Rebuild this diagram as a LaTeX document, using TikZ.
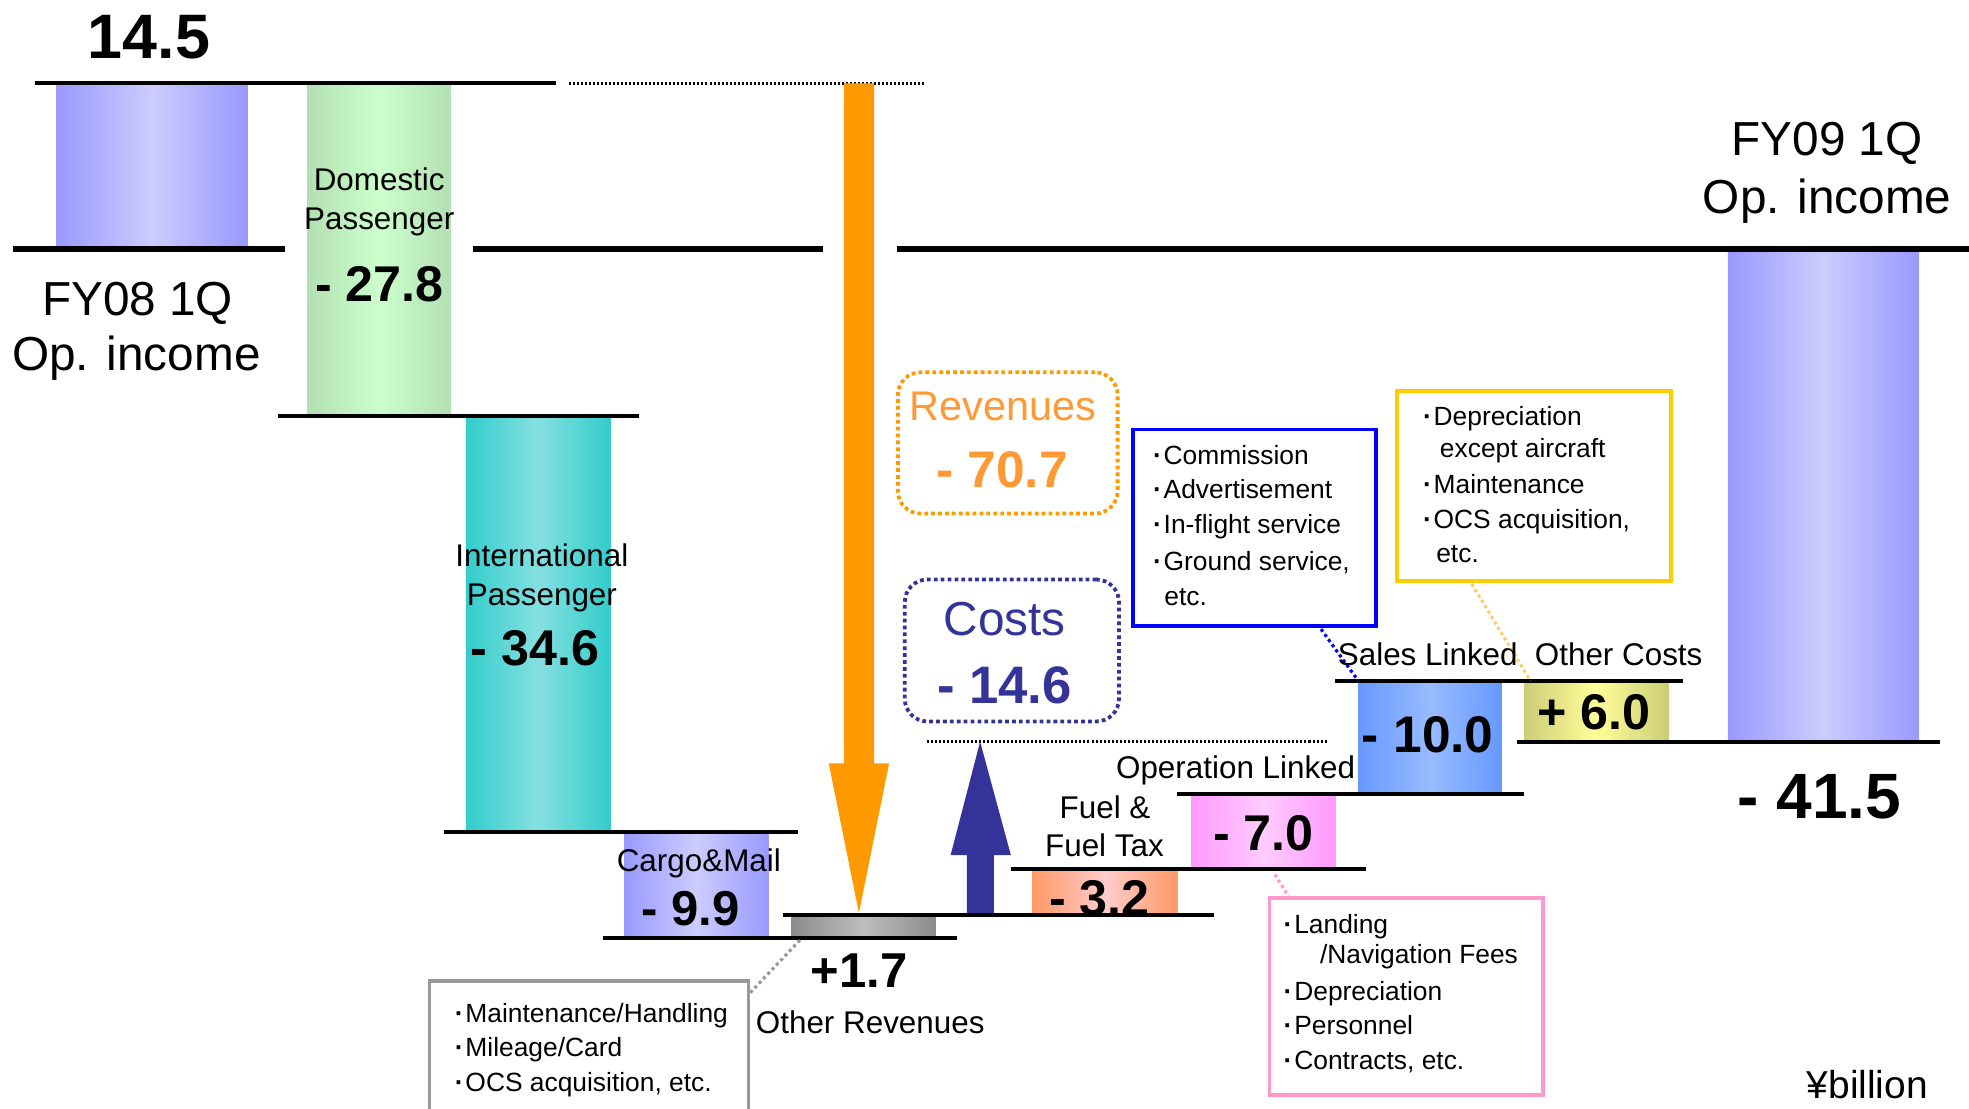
\documentclass[tikz,border=0pt]{standalone}
\usepackage{fontspec}
\setmainfont{Liberation Sans}
\usetikzlibrary{calc}
\newcommand\fsz[1]{\fontsize{#1}{#1}\selectfont}
\newcommand\bul{{\bfseries ·}\kern1.5pt}
\definecolor{fyE}{HTML}{9999FF}\definecolor{fyM}{HTML}{CCCCFF}
\definecolor{domE}{HTML}{B3E0B3}\definecolor{domM}{HTML}{CCFFCC}
\definecolor{intE}{HTML}{33CCCC}\definecolor{intM}{HTML}{85E0E0}
\definecolor{grE}{HTML}{8C8C8C}\definecolor{grM}{HTML}{BDBDBD}
\definecolor{fuE}{HTML}{FF9966}\definecolor{fuM}{HTML}{FFCCCC}
\definecolor{piE}{HTML}{FF99FF}\definecolor{piM}{HTML}{FFCCFF}
\definecolor{slE}{HTML}{6699FF}\definecolor{slM}{HTML}{99BBFF}
\definecolor{ocE}{HTML}{CCCC77}\definecolor{ocM}{HTML}{FFFF99}
\definecolor{arrO}{HTML}{FF9900}
\definecolor{arrB}{HTML}{333399}
\definecolor{revT}{HTML}{FF9933}
\definecolor{boxB}{HTML}{0000FF}
\definecolor{boxY}{HTML}{FFCC00}
\definecolor{boxP}{HTML}{FF99CC}
\definecolor{boxG}{HTML}{999999}
\definecolor{dotY}{HTML}{FFCC66}
\begin{document}
\begin{tikzpicture}[x=1pt,y=-1pt,
  barnode/.style n args={4}{anchor=north west, inner sep=0pt, outer sep=0pt,
     minimum width=#1pt, minimum height=#2pt,
     left color=#3, right color=#3, middle color=#4},
  hl/.style={line width=3pt},
  baseline line/.style={line width=5pt},
  dotline/.style={line width=2pt, dash pattern=on 1.6pt off 1.6pt},
  lbl/.style={anchor=base, inner sep=0pt},
  item/.style={anchor=base west, inner sep=0pt, font=\fsz{21}},
  infobox/.style={anchor=north west, inner sep=0pt, line width=3pt, fill=white},
  roundbox/.style={anchor=north west, inner sep=0pt, line width=3pt,
     dash pattern=on 3pt off 2.5pt, rounded corners=18pt},
  callout/.style={line width=2.5pt, dash pattern=on 2.5pt off 2.5pt}]
\useasboundingbox (0,0) rectangle (1568,883);

% ---------- bars ----------
\node[barnode={152}{132}{fyE}{fyM}] (fy08) at (45,66.4) {};
\node[barnode={114}{264}{domE}{domM}] (dom) at (245,66.4) {};
\node[barnode={115}{331}{intE}{intM}] (intl) at (371,331) {};
\node[barnode={115}{85}{fyE}{fyM}] (cargo) at (497,662.7) {};
\node[barnode={115}{18}{grE}{grM}] (othrev) at (630,728.7) {};
\node[barnode={116}{36}{fuE}{fuM}] (fuel) at (822,692.3) {};
\node[barnode={114.5}{60}{piE}{piM}] (oplink) at (949,632.4) {};
\node[barnode={114.5}{90}{slE}{slM}] (sales) at (1081.5,542) {};
\node[barnode={115}{48.6}{ocE}{ocM}] (othcost) at (1213.6,542) {};
\node[barnode={152}{389}{fyE}{fyM}] (fy09) at (1376,201) {};

% ---------- level lines ----------
\draw[hl] (28,66.4) -- (443,66.4);
\draw[dotline] (453,66.4) -- (736,66.4);
\draw[baseline line] (10,198.5) -- (227,198.5);
\draw[baseline line] (376.5,198.5) -- (655,198.5);
\draw[baseline line] (714,198.5) -- (1568,198.5);
\draw[hl] (221,331) -- (509,331);
\draw[hl] (353.6,662.7) -- (635.5,662.7);
\draw[hl] (480,746.7) -- (762,746.7);
\draw[hl] (623.7,728.7) -- (967,728.7);
\draw[hl] (805,692.3) -- (1087.6,692.3);
\draw[hl] (937.5,632.4) -- (1213.6,632.4);
\draw[hl] (1063.5,542) -- (1340,542);
\draw[hl] (1208,590.6) -- (1545,590.6);
\draw[dotline] (738,590.6) -- (1057,590.6);

% ---------- big arrows ----------
\fill[arrO] (672,66.4) -- (696,66.4) -- (696,608) -- (708,608) -- (684,727)
   -- (660,608) -- (672,608) -- cycle;
\fill[arrB] (770,727) -- (791.5,727) -- (791.5,681) -- (805,681) -- (780.5,590.6)
   -- (757,681) -- (770,681) -- cycle;

% ---------- summary boxes ----------
\node[roundbox, draw=arrO, minimum width=175pt, minimum height=112.5pt] (revbox) at (713.5,295) {};
\node[roundbox, draw=arrB, minimum width=170.6pt, minimum height=113pt] (costbox) at (719,460) {};

% ---------- info boxes ----------
\node[infobox, draw=boxG, line width=2.5pt, minimum width=254pt, minimum height=135pt] (gbox) at (340.5,780) {};
\node[infobox, draw=boxB, minimum width=193pt, minimum height=156.4pt] (bbox) at (901,340.6) {};
\node[infobox, draw=boxY, minimum width=218pt, minimum height=151pt] (ybox) at (1111,310) {};
\node[infobox, draw=boxP, minimum width=217.6pt, minimum height=157pt] (pbox) at (1009.4,713.6) {};

% ---------- callout connectors ----------
\draw[callout, draw=boxG] ($(othrev.south west)+(7,2)$) -- ($(gbox.north east)+(0,11)$);
\draw[callout, draw=boxB] ($(bbox.south west)+(151,1)$) -- (sales.north west);
\draw[callout, draw=dotY] ($(ybox.south west)+(61,1)$) -- ($(othcost.north west)+(5,0)$);
\draw[callout, draw=boxP] ($(oplink.south)+(9,4)$) -- ($(pbox.north west)+(16.6,0)$);

% ---------- texts ----------
\node[lbl, font=\fsz{50}\bfseries] (t145) at (118.7,46.5) {14.5};
\node[lbl, font=\fsz{38}] (tfy08a) at (109.5,251) {FY08 1Q};
\node[lbl, font=\fsz{38}] (tfy08b) at (108.6,295) {Op. income};
\node[lbl, font=\fsz{38}] (tfy09a) at (1455,124) {FY09 1Q};
\node[lbl, font=\fsz{38}] (tfy09b) at (1455,170.4) {Op. income};

\node[lbl, font=\fsz{25}] (tdom1) at (302,152) {Domestic};
\node[lbl, font=\fsz{25}] (tdom2) at (302,183) {Passenger};
\node[lbl, font=\fsz{40}\bfseries] (tdomv) at (302,240) {- 27.8};

\node[lbl, font=\fsz{25}] (tint1) at (431.5,451) {International};
\node[lbl, font=\fsz{25}] (tint2) at (431.5,482) {Passenger};
\node[lbl, font=\fsz{40}\bfseries] (tintv) at (426,530) {- 34.6};

\node[lbl, font=\fsz{25}] (tcar1) at (556.5,694) {Cargo\&Mail};
\node[lbl, font=\fsz{39}\bfseries] (tcarv) at (550,737) {- 9.9};

\node[lbl, font=\fsz{39}\bfseries] (torv) at (684,786) {+1.7};
\node[lbl, font=\fsz{25}] (tor1) at (693,823) {Other Revenues};

\node[lbl, font=\fsz{25}] (tfu1) at (880,652) {Fuel \&};
\node[lbl, font=\fsz{25}] (tfu2) at (879.5,682) {Fuel Tax};
\node[lbl, font=\fsz{40}\bfseries] (tfuv) at (875.5,729) {- 3.2};

\node[lbl, font=\fsz{25}] (tol1) at (984,620) {Operation Linked};
\node[lbl, font=\fsz{40}\bfseries] (tolv) at (1006,677) {- 7.0};

\node[lbl, font=\fsz{25}] (tsl1) at (1137,530) {Sales Linked};
\node[lbl, font=\fsz{41}\bfseries] (tslv) at (1137,599) {- 10.0};

\node[lbl, font=\fsz{25}] (toc1) at (1289,530) {Other Costs};
\node[lbl, font=\fsz{40}\bfseries] (tocv) at (1269.5,581) {+ 6.0};

\node[lbl, font=\fsz{51}\bfseries] (t415) at (1449,652) {- 41.5};
\node[lbl, font=\fsz{31}] (tunit) at (1487,875) {¥billion};

\node[lbl, font=\fsz{33}, text=revT] (trev1) at (798.6,334.5) {Revenues};
\node[lbl, font=\fsz{41}\bfseries, text=revT] (trevv) at (798,388) {- 70.7};
\node[lbl, font=\fsz{38}, text=arrB] (tcost1) at (800,506) {Costs};
\node[lbl, font=\fsz{42}\bfseries, text=arrB] (tcostv) at (800,560) {- 14.6};

% grey box items
\node[item] (g1) at (362,814) {\bul Maintenance/Handling};
\node[item] (g2) at (362,841.5) {\bul Mileage/Card};
\node[item] (g3) at (362,869) {\bul OCS acquisition, etc.};
% blue box items
\node[item] (b1) at (918,369.5) {\bul Commission};
\node[item] (b2) at (918,397) {\bul Advertisement};
\node[item] (b3) at (918,425) {\bul In-flight service};
\node[item] (b4) at (918,454) {\bul Ground service,};
\node[item] (b5) at (927,482) {etc.};
% yellow box items
\node[item] (y1) at (1133,338.5) {\bul Depreciation};
\node[item] (y2) at (1146.5,364) {except aircraft};
\node[item] (y3) at (1133,393) {\bul Maintenance};
\node[item] (y4) at (1133,420.6) {\bul OCS acquisition,};
\node[item] (y5) at (1143.6,448) {etc.};
% pink box items
\node[item] (p1) at (1022,743) {\bul Landing};
\node[item] (p2) at (1051,767) {/Navigation Fees};
\node[item] (p3) at (1022,796.5) {\bul Depreciation};
\node[item] (p4) at (1022,824) {\bul Personnel};
\node[item] (p5) at (1022,852) {\bul Contracts, etc.};
\end{tikzpicture}
\end{document}
